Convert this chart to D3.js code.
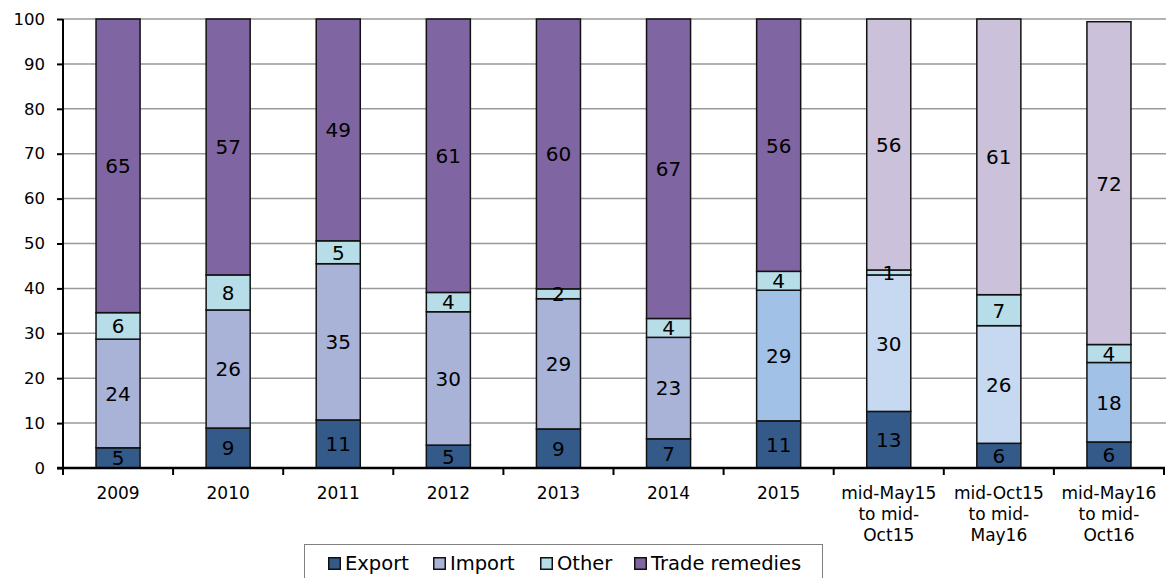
<!DOCTYPE html>
<html><head><meta charset="utf-8">
<script src="https://cdn.jsdelivr.net/npm/d3@7"></script>
<style>
html,body{margin:0;padding:0;background:#fff;}
svg{display:block;}
text{font-family:"DejaVu Sans",Verdana,sans-serif;fill:#000;}
</style></head>
<body>
<svg id="chart" width="1166" height="578"></svg>
<script>
const categories = [["2009"],["2010"],["2011"],["2012"],["2013"],["2014"],["2015"],
  ["mid-May15","to mid-","Oct15"],["mid-Oct15","to mid-","May16"],["mid-May16","to mid-","Oct16"]];
const exportVals = [4.5, 8.9, 10.7, 5.1, 8.7, 6.5, 10.5, 12.6, 5.5, 5.8];
const importVals = [24.2, 26.3, 34.8, 29.7, 29.0, 22.6, 29.1, 30.4, 26.2, 17.7];
const otherVals  = [5.9, 7.8, 5.1, 4.3, 2.2, 4.2, 4.2, 1.1, 6.9, 4.0];
const tradeVals  = [65.4, 57.0, 49.4, 60.9, 60.1, 66.7, 56.2, 55.9, 61.4, 71.9];
const seriesNames = ["Export","Import","Other","Trade remedies"];
const yTicks = [0,10,20,30,40,50,60,70,80,90,100];

// styles
const legendColors = ["#345A8A","#A9B3D8","#B7DEE8","#7F65A1"];
const exportColors = Array(10).fill("#345A8A");
const importColors = ["#A9B3D8","#A9B3D8","#A9B3D8","#A9B3D8","#A9B3D8","#A9B3D8","#A2C1E6","#C6D9F0","#C6D9F0","#A2C1E6"];
const otherColors  = Array(10).fill("#B7DEE8");
const tradeColors  = ["#7F65A1","#7F65A1","#7F65A1","#7F65A1","#7F65A1","#7F65A1","#7F65A1","#CBC1DB","#CBC1DB","#CBC1DB"];

const svg = d3.select("#chart");
const m = {left:63, right:1164, top:19, bottom:468};
const x = d3.scaleBand().domain(d3.range(categories.length)).range([m.left, m.right]).paddingInner(0).paddingOuter(0);
const y = d3.scaleLinear().domain([0,100]).range([m.bottom, m.top]);
const barW = x.bandwidth()*0.4;

// gridlines
svg.append("g").selectAll("line").data(yTicks.filter(d=>d>0)).join("line")
  .attr("x1", m.left).attr("x2", 1166)
  .attr("y1", d=>y(d)).attr("y2", d=>y(d))
  .attr("stroke","#999").attr("stroke-width",1.5);

// stacked data
const rows = categories.map((c,i)=>({i, Export:exportVals[i], Import:importVals[i], Other:otherVals[i], "Trade remedies":tradeVals[i]}));
const stack = d3.stack().keys(seriesNames)(rows);
const colorSets = [exportColors, importColors, otherColors, tradeColors];

const gBars = svg.append("g");
stack.forEach((layer, k)=>{
  gBars.append("g").selectAll("rect").data(layer).join("rect")
    .attr("x", d=>x(d.data.i)+(x.bandwidth()-barW)/2)
    .attr("y", d=>y(d[1]))
    .attr("width", barW)
    .attr("height", d=>y(d[0])-y(d[1]))
    .attr("fill", d=>colorSets[k][d.data.i])
    .attr("stroke","#111").attr("stroke-width",1.5);
});
stack.forEach((layer)=>{
  gBars.append("g").selectAll("text").data(layer).join("text")
    .attr("x", d=>x(d.data.i)+x.bandwidth()/2)
    .attr("y", d=>(y(d[0])+y(d[1]))/2)
    .attr("dy","0.37em")
    .attr("text-anchor","middle")
    .attr("font-size","20px")
    .attr("fill","#111")
    .text(d=>Math.round(d[1]-d[0]));
});

// y axis
const yAxis = d3.axisLeft(y).tickValues(yTicks).tickSize(6).tickPadding(12);
const gy = svg.append("g").attr("transform",`translate(${m.left},0)`).call(yAxis);
gy.select(".domain").attr("stroke","#000").attr("stroke-width",2).attr("d",`M0,${m.top}V${m.bottom}`);
gy.selectAll(".tick line").attr("stroke","#000").attr("stroke-width",2);
gy.selectAll(".tick text").attr("font-size","16.5px").attr("font-family","DejaVu Sans").attr("fill","#111");

// x axis
const gx = svg.append("g").attr("transform",`translate(0,${m.bottom})`);
gx.append("line").attr("x1",m.left-6).attr("x2",m.right+1).attr("y1",0).attr("y2",0).attr("stroke","#000").attr("stroke-width",2.5);
gx.selectAll("line.tk").data(d3.range(categories.length+1)).join("line").attr("class","tk")
  .attr("x1", d=>m.left + d*x.step()).attr("x2", d=>m.left + d*x.step())
  .attr("y1",0).attr("y2",7).attr("stroke","#000").attr("stroke-width",2);
const xl = gx.selectAll("text").data(categories).join("text")
  .attr("text-anchor","middle")
  .attr("font-size","17px")
  .attr("fill","#111")
  .attr("transform",(d,i)=>`translate(${x(i)+x.bandwidth()/2},31)`);
xl.selectAll("tspan").data(d=>d).join("tspan")
  .attr("x",0).attr("y",(d,j)=>j*21).text(d=>d);

// legend
const lg = svg.append("g");
lg.append("rect").attr("x",304.5).attr("y",544.5).attr("width",518).attr("height",60)
  .attr("fill","#fff").attr("stroke","#808080").attr("stroke-width",1);
const legX = [328, 433, 540, 634];
seriesNames.forEach((n,k)=>{
  lg.append("rect").attr("x",legX[k]+0.75).attr("y",557.75).attr("width",11.5).attr("height",11.5)
    .attr("fill",legendColors[k]).attr("stroke","#111").attr("stroke-width",1.5);
  lg.append("text").attr("x",legX[k]+17).attr("y",570).attr("font-size","19.5px").attr("fill","#111").text(n);
});
</script>
</body></html>
